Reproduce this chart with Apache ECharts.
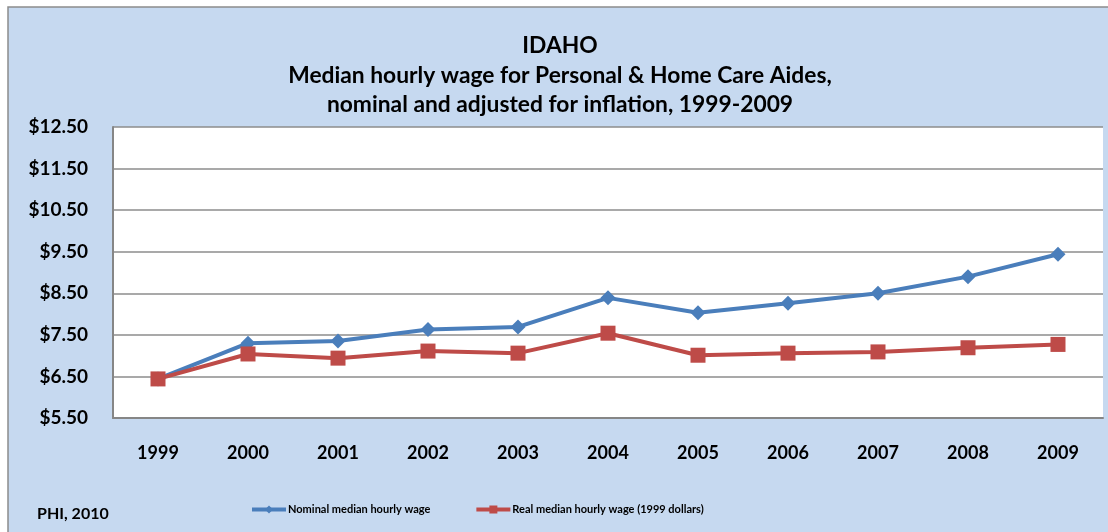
<!DOCTYPE html>
<html>
<head>
<meta charset="utf-8">
<script src="https://cdn.jsdelivr.net/npm/echarts@6/dist/echarts.min.js"></script>
<style>
html,body{margin:0;padding:0;background:#fff;}
#c{width:1108px;height:532px;}
</style>
</head>
<body>
<div id="c"></div>
<script>
const years = ['1999','2000','2001','2002','2003','2004','2005','2006','2007','2008','2009'];
const nominal = [6.44, 7.30, 7.35, 7.63, 7.69, 8.39, 8.03, 8.26, 8.50, 8.90, 9.44];
const real = [6.44, 7.04, 6.94, 7.11, 7.06, 7.54, 7.01, 7.06, 7.09, 7.19, 7.27];
const seriesNames = ['Nominal median hourly wage', 'Real median hourly wage (1999 dollars)'];
const titleText = 'IDAHO\nMedian hourly wage for Personal & Home Care Aides,\nnominal and adjusted for inflation, 1999-2009';
const sourceText = 'PHI, 2010';

const FONT = 'Lato';
const chart = echarts.init(document.getElementById('c'));
chart.setOption({
  animation: false,
  backgroundColor: '#ffffff',
  graphic: [
    {type:'rect', z:-10, shape:{x:8, y:7, width:1110, height:540},
     style:{fill:'#c6d9f0', stroke:'#8c8c8c', lineWidth:1.5}},
    {type:'text', left:37, top:506, style:{text:sourceText, font:'bold 16px Lato', fill:'#000'}}
  ],
  title: {
    text: titleText,
    left: 555, top: 26, textAlign: 'center',
    textStyle: {fontFamily: FONT, fontWeight: 'bold', fontSize: 22.8, lineHeight: 29.5, color: '#000'}
  },
  legend: {
    left: 245, top: 499,
    itemWidth: 34, itemHeight: 10, itemGap: 44,
    lineStyle: {width: 4},
    textStyle: {fontFamily: FONT, fontWeight: 'bold', fontSize: 11, color: '#000', padding:[0,0,0,-3]},
    data: seriesNames
  },
  grid: {left: 113, top: 127, width: 990, height: 291, show: true, backgroundColor: '#ffffff', borderWidth: 0},
  xAxis: {
    type: 'category', data: years, boundaryGap: true,
    axisLine: {lineStyle: {color: '#868686', width: 2}},
    axisTick: {show: false},
    axisLabel: {fontFamily: FONT, fontWeight: 'bold', fontSize: 18, color: '#000', margin: 26}
  },
  yAxis: {
    type: 'value', min: 5.5, max: 12.5, interval: 1,
    axisLine: {show: true, lineStyle: {color: '#868686', width: 2}},
    axisTick: {show: false},
    splitLine: {lineStyle: {color: '#8c8c8c', width: 1.5}},
    axisLabel: {fontFamily: FONT, fontWeight: 'bold', fontSize: 19, color: '#000', margin: 25,
      formatter: v => '$' + v.toFixed(2)}
  },
  series: [
    {name: seriesNames[0], type: 'line', data: nominal, symbol: 'diamond', symbolSize: 15,
     lineStyle: {color: '#4a7ebb', width: 4}, itemStyle: {color: '#4a7ebb'}},
    {name: seriesNames[1], type: 'line', data: real, symbol: 'rect', symbolSize: 15,
     lineStyle: {color: '#be4b48', width: 4}, itemStyle: {color: '#be4b48'}}
  ]
});
</script>
</body>
</html>
